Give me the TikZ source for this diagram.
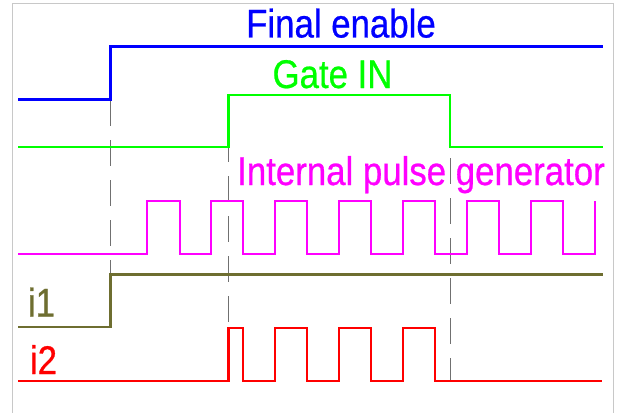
\documentclass[tikz,border=0pt]{standalone}
\usepackage{fontspec}
\newfontfamily\labfont[FakeStretch=0.87,FakeBold=0.6]{Liberation Sans}
\definecolor{sigblue}{RGB}{0,0,255}
\definecolor{siggreen}{RGB}{0,255,0}
\definecolor{sigmag}{RGB}{255,0,255}
\definecolor{sigolive}{RGB}{110,110,48}
\definecolor{sigred}{RGB}{255,0,0}
\definecolor{guide}{RGB}{112,112,112}
\definecolor{frame}{RGB}{200,200,200}
\tikzset{
  sig/.style={line width=2.2pt, line join=miter},
  guideline/.style={draw=guide, line width=1pt, dash pattern=on 26pt off 14pt},
  lab/.style={font=\labfont\fontsize{40}{40}\selectfont, inner sep=0pt, anchor=base}
}
\begin{document}
\begin{tikzpicture}[x=1pt,y=-1pt]
\useasboundingbox (0,0) rectangle (620,412);
% frame
\draw[frame, line width=1.5pt] (12.5,420) -- (12.5,3.5) -- (613.5,3.5) -- (613.5,420);
% guides
\draw[guideline, dash phase=0pt] (110.5,100) -- (110.5,274);
\draw[guideline, dash phase=0pt] (228.5,96) -- (228.5,328);
\draw[guideline, dash phase=-10pt] (450,148) -- (450,381);
% Final enable
\draw[sig, sigblue] (18,99.5) -- (110.5,99.5) -- (110.5,46.5) -- (603,46.5);
\node[lab, text=sigblue] (fe) at (341,37.5) {Final enable};
% Gate IN
\draw[sig, siggreen] (18,147) -- (228.5,147) -- (228.5,95) -- (450,95) -- (450,147) -- (603,147);
\node[lab, text=siggreen] (gi) at (332.5,88) {Gate IN};
% Internal pulse generator
\draw[sig, sigmag] (18,254) -- (147,254)
  \foreach \r/\f in {147/180,211/243,275/307,339/371,403/435,467/499,531/563}{
    -- (\r,254) -- (\r,201) -- (\f,201) -- (\f,254)
  } -- (595,254) -- (595,201);
\node[lab, text=sigmag] (ipg) at (421,185) {Internal pulse generator};
% i1
\draw[sig, sigolive] (18,327) -- (110.5,327) -- (110.5,274.5) -- (603,274.5);
\node[lab, text=sigolive] (i1) at (41.5,316.5) {i1};
% i2
\draw[sig, sigred] (18,381) -- (228.5,381) -- (228.5,328) -- (243,328) -- (243,381)
  \foreach \r/\f in {275/307,339/371,403/435}{
    -- (\r,381) -- (\r,328) -- (\f,328) -- (\f,381)
  } -- (602,381);
\node[lab, text=sigred] (i2) at (43.5,374) {i2};
\end{tikzpicture}
\end{document}
